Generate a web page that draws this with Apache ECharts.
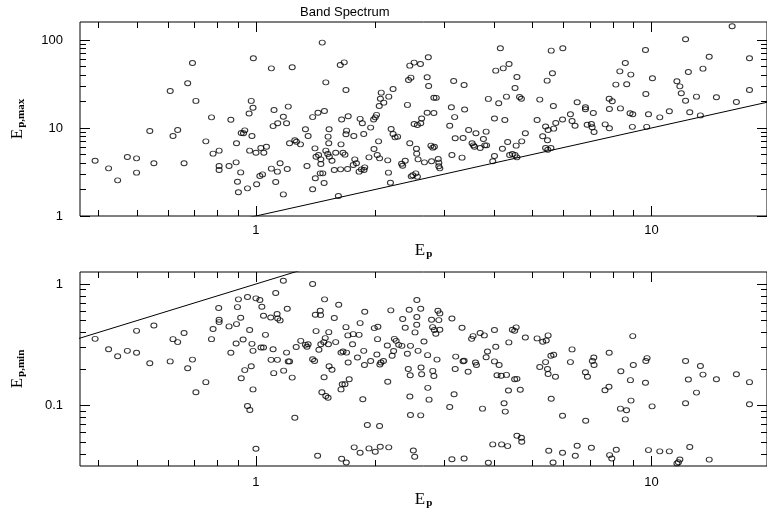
<!DOCTYPE html>
<html><head><meta charset="utf-8">
<script src="https://cdn.jsdelivr.net/npm/echarts@6/dist/echarts.min.js"></script>
<style>html,body{margin:0;padding:0;background:#fff}#c{width:767px;height:512px}</style>
</head><body><div id="c"></div>
<script>
const chartTitle = 'Band Spectrum';
// [Ep, Ep,max]
const epVsEpMax = [
[0.392,4.25],[0.424,3.48],[0.447,2.54],[0.473,4.68],[0.499,4.52],[0.499,3.11],[0.539,9.25],[0.552,3.97],[0.607,26.3],[0.617,8.11],
[0.634,9.49],[0.658,3.97],[0.672,32.2],[0.691,54.8],[0.705,20.3],[0.747,7.05],[0.772,13.2],[0.779,5.11],[0.807,5.53],[0.807,3.70],
[0.807,3.33],[0.855,3.70],[0.864,12.4],[0.893,6.70],[0.891,4.07],[0.898,2.45],[0.903,1.86],[0.915,3.13],[0.918,8.77],[0.930,8.70],
[0.937,9.40],[0.952,2.06],[0.961,14.6],[0.964,5.53],[0.973,20.3],[0.977,8.11],[0.983,17.0],[0.985,61.9],[1.0,5.24],[1.004,2.29],
[1.023,2.85],[1.039,2.97],[1.029,5.93],[1.047,5.24],[1.063,6.13],[1.094,47.6],[1.094,3.45],[1.105,10.5],[1.111,16.0],[1.135,11.3],
[1.122,2.43],[1.133,3.19],[1.151,3.97],[1.173,1.76],[1.173,13.4],[1.195,11.3],[1.2,3.42],[1.207,17.5],[1.216,6.70],[1.235,48.9],
[1.254,7.24],[1.266,6.99],[1.296,6.52],[1.334,9.66],[1.346,3.70],[1.355,8.11],[1.391,2.01],[1.391,13.3],[1.435,14.9],[1.41,5.87],
[1.413,2.68],[1.419,4.72],[1.44,4.93],[1.454,3.05],[1.476,3.05],[1.459,4.40],[1.459,3.90],[1.471,93.3],[1.487,2.37],[1.49,15.6],
[1.502,33.0],[1.502,5.53],[1.531,9.66],[1.522,7.97],[1.528,6.70],[1.519,5.07],[1.533,4.72],[1.557,4.25],[1.578,3.33],[1.591,5.24],
[1.616,1.69],[1.634,52.0],[1.672,55.7],[1.641,6.52],[1.647,12.5],[1.711,13.6],[1.66,5.24],[1.679,4.98],[1.637,3.39],[1.689,27.0],
[1.695,9.33],[1.689,8.47],[1.768,8.11],[1.705,3.42],[1.762,3.80],[1.795,3.97],[1.778,4.40],[1.823,3.19],[1.848,3.39],[1.876,3.33],
[1.884,3.57],[1.834,12.7],[1.858,11.3],[1.873,8.55],[1.931,4.64],[1.95,10.1],[1.984,12.5],[2.003,13.2],[1.988,5.77],[2.018,14.1],
[2.026,4.93],[2.042,7.05],[2.054,4.52],[2.05,17.8],[2.074,25.2],[2.064,21.5],[2.105,19.4],[2.154,4.29],[2.163,3.11],[2.188,2.39],
[2.197,9.74],[2.222,27.7],[2.167,22.7],[2.222,8.55],[2.248,7.83],[2.281,7.97],[2.335,3.93],[2.349,3.73],[2.385,4.25],[2.416,18.3],
[2.431,35.1],[2.465,37.3],[2.449,6.70],[2.449,51.1],[2.512,55.3],[2.606,53.4],[2.47,2.82],[2.493,2.90],[2.56,2.80],[2.536,3.05],
[2.512,11.1],[2.56,10.8],[2.61,11.3],[2.546,5.82],[2.55,5.11],[2.57,4.40],[2.624,12.8],[2.667,4.07],[2.71,14.9],[2.818,14.8],
[2.728,63.5],[2.71,37.7],[2.733,30.0],[2.77,6.30],[2.80,5.98],[2.826,6.13],[2.78,4.18],[2.818,22.1],[2.857,22.0],[2.89,4.44],
[2.90,4.04],[2.90,3.67],[2.917,3.48],[3.09,10.6],[3.12,17.2],[3.18,13.3],[3.13,4.93],[3.162,34.2],[3.19,7.63],[3.32,4.60],
[3.34,7.70],[3.36,30.8],[3.37,16.2],[3.45,9.49],[3.52,6.70],[3.548,6.35],[3.57,6.13],[3.60,8.70],[3.69,5.93],[3.76,7.50],
[3.79,6.35],[3.83,6.35],[3.82,9.09],[3.87,21.4],[3.97,4.18],[4.01,4.81],[4.01,12.8],[4.04,44.8],[4.15,80.4],[4.22,47.6],
[4.365,53.4],[4.11,19.1],[4.20,5.82],[4.26,12.3],[4.30,22.7],[4.33,6.93],[4.38,4.93],[4.45,5.07],
[4.52,28.5],[4.57,38.0],[4.64,22.5],[4.69,21.5],[4.55,6.30],[4.70,7.05],[4.80,8.70],[4.52,4.93],[4.57,4.64],[5.14,12.3],
[5.22,21.0],[5.31,8.04],[5.40,10.4],[5.45,34.5],[5.48,9.49],[5.46,7.24],[5.40,5.93],[5.47,5.67],[5.57,5.93],[5.58,75.6],
[5.62,41.8],[5.65,17.8],[5.66,9.83],[5.73,11.4],[5.97,80.4],[5.96,12.5],[6.24,14.3],[6.30,12.0],[6.41,10.6],[6.49,19.6],
[6.81,17.2],[6.81,16.3],[6.88,10.9],[7.05,11.1],[7.08,10.2],[7.16,9.01],[7.13,14.8],[7.64,11.0],[7.82,21.5],[7.96,20.1],
[7.83,9.91],[7.83,16.4],[8.13,31.1],[8.32,44.0],[8.59,54.8],[8.66,31.4],[8.87,40.4],[8.35,16.7],[8.83,14.7],[8.97,14.3],
[8.95,10.3],[9.66,77.0],[9.68,24.3],[9.73,10.3],[9.83,14.3],[10.06,36.7],[10.5,13.2],[11.1,15.5],[11.6,33.9],[11.8,29.7],
[11.9,24.8],[12.2,20.4],[12.2,101.8],[12.4,43.3],[12.5,15.1],[13.0,22.7],[13.3,13.9],[13.5,47.2],[14.0,64.6],[14.6,22.3],
[16.0,143],[16.4,19.7],[17.7,61.9],[17.7,27.0]
];
// [Ep, Ep,min]
const epVsEpMin = [
[0.392,0.354],[0.424,0.291],[0.447,0.255],[0.473,0.282],[0.499,0.272],[0.499,0.412],[0.539,0.223],[0.552,0.456],[0.607,0.231],[0.617,0.352],
[0.634,0.333],[0.658,0.395],[0.672,0.203],[0.691,0.239],[0.705,0.129],[0.747,0.156],[0.772,0.352],[0.779,0.426],[0.805,0.634],[0.807,0.508],
[0.807,0.486],[0.855,0.448],[0.864,0.272],[0.893,0.468],[0.898,0.646],[0.903,0.748],[0.891,0.324],[0.915,0.528],[0.928,0.350],[0.918,0.168],
[0.937,0.196],[0.952,0.0994],[0.965,0.0921],[0.952,0.781],[0.964,0.418],[0.973,0.211],[0.977,0.322],[0.983,0.282],[0.983,0.136],[1.0,0.762],
[1.0,0.0442],[1.023,0.738],[1.035,0.651],[1.045,0.548],[1.045,0.301],[1.057,0.382],[1.03,0.301],
[1.09,0.531],[1.092,0.238],[1.105,0.291],[1.109,0.185],[1.122,0.843],[1.131,0.566],[1.135,0.521],[1.151,0.502],[1.133,0.238],[1.173,1.065],
[1.175,0.194],[1.195,0.273],[1.2,0.626],[1.207,0.231],[1.216,0.231],[1.235,0.170],[1.254,0.0796],[1.264,0.303],[1.298,0.341],[1.334,0.316],
[1.346,0.305],[1.355,0.320],[1.391,1.0],[1.391,0.241],[1.407,0.233],[1.413,0.559],[1.419,0.410],[1.432,0.0387],[1.443,0.288],[1.454,0.603],
[1.457,0.555],[1.459,0.320],[1.484,0.333],[1.468,0.129],[1.491,0.748],[1.497,0.359],[1.487,0.171],[1.502,0.120],[1.522,0.116],[1.525,0.320],
[1.531,0.211],[1.528,0.402],[1.557,0.197],[1.578,0.525],[1.591,0.333],[1.619,0.676],[1.641,0.136],[1.647,0.0366],[1.641,0.273],[1.653,0.150],
[1.66,0.279],[1.679,0.150],[1.689,0.442],[1.695,0.273],[1.692,0.0341],[1.708,0.378],[1.711,0.226],[1.721,0.165],[1.762,0.387],[1.755,0.320],
[1.772,0.0454],[1.806,0.249],[1.823,0.382],[1.834,0.477],[1.834,0.0410],[1.863,0.113],[1.873,0.282],[1.881,0.216],[1.884,0.591],[1.913,0.0693],
[1.931,0.0445],[1.95,0.233],[1.992,0.434],[2.003,0.0418],[2.022,0.263],[2.034,0.445],[2.03,0.352],[2.054,0.0680],[2.058,0.218],[2.062,0.0459],
[2.07,0.226],[2.101,0.233],[2.149,0.312],[2.154,0.157],[2.167,0.0454],[2.193,0.607],[2.21,0.257],[2.229,0.281],[2.239,0.354],[2.262,0.341],
[2.296,0.316],[2.339,0.310],[2.35,0.515],[2.385,0.437],[2.415,0.267],[2.428,0.200],[2.45,0.119],[2.455,0.178],[2.459,0.0838],[2.441,0.614],
[2.459,0.310],[2.5,0.0428],[2.52,0.0380],[2.525,0.400],[2.55,0.462],[2.552,0.535],[2.552,0.738],[2.57,0.282],[2.61,0.626],[2.61,0.0832],
[2.624,0.181],[2.615,0.206],[2.66,0.337],[2.717,0.260],[2.72,0.140],[2.74,0.112],[2.78,0.508],[2.80,0.193],[2.818,0.175],[2.797,0.442],
[2.826,0.418],[2.85,0.390],[2.87,0.239],[2.885,0.603],[2.90,0.505],[2.917,0.421],[2.917,0.573],[3.09,0.0975],[3.13,0.521],[3.13,0.0363],
[3.17,0.124],[3.20,0.253],[3.19,0.200],[3.32,0.437],[3.34,0.232],[3.36,0.234],[3.36,0.0368],[3.44,0.190],[3.51,0.354],[3.54,0.373],
[3.59,0.226],[3.61,0.216],[3.69,0.395],[3.74,0.0945],[3.78,0.378],[3.82,0.250],[3.85,0.279],[3.87,0.0339],[3.97,0.048],[4.01,0.418],
[4.01,0.231],[4.04,0.305],[4.07,0.178],[4.12,0.216],[4.17,0.176],[4.18,0.048],[4.24,0.1045],[4.27,0.0893],[4.30,0.179],[4.33,0.0465],
[4.35,0.133],[4.36,0.331],[4.45,0.421],
[4.51,0.412],[4.55,0.440],[4.51,0.165],[4.57,0.166],[4.66,0.135],[4.57,0.0566],[4.69,0.0545],[4.70,0.0505],[4.80,0.363],[5.14,0.357],
[5.22,0.208],[5.31,0.335],[5.42,0.343],[5.48,0.378],[5.40,0.228],[5.46,0.200],[5.48,0.182],[5.57,0.257],[5.66,0.262],[5.72,0.173],
[5.58,0.114],[5.50,0.0426],[5.64,0.0341],[5.96,0.0827],[5.96,0.0410],[6.24,0.228],[6.30,0.290],[6.42,0.0387],[6.49,0.0468],[6.81,0.188],
[6.89,0.173],[6.82,0.0752],[7.05,0.0451],[7.09,0.233],[7.15,0.249],[7.16,0.216],[7.63,0.134],[7.81,0.143],[7.82,0.272],[7.84,0.0392],
[7.94,0.0368],[8.15,0.0434],[8.37,0.192],[8.35,0.0945],[8.59,0.0771],[8.65,0.0916],[8.85,0.162],[8.88,0.110],[8.97,0.373],[9.0,0.216],
[9.66,0.154],[9.68,0.233],[9.75,0.246],[9.83,0.0431],[10.04,0.0987],[10.5,0.0421],[11.1,0.0421],[11.6,0.0335],[11.7,0.0342],[11.8,0.0361],
[12.2,0.1045],[12.2,0.233],[12.4,0.164],[12.5,0.0457],[13.0,0.128],[13.3,0.212],[13.5,0.180],[14.0,0.0360],[14.6,0.165],[16.4,0.181],
[17.7,0.156],[17.7,0.1026]
];
// equality line Ep = Ep,max / Ep,min (end points, clipped by the plot)
const equalityLine = [0.1, 100];
// axis ranges and tick labels
const xRange = [0.359, 19.6];
const topYRange = [1, 160];
const botYRange = [0.0319, 1.255];
const xTickLabels = [1, 10];
const topYTickLabels = [1, 10, 100];
const botYTickLabels = [0.1, 1];

const LOG = Math.log10;
const MAJOR = [1], MINOR = [2,3,4,5,6,7,8,9];
function decadeTicks(range, mults){
  const out = [];
  for (let e = -3; e <= 3; e++) for (const k of mults) {
    const v = k * Math.pow(10, e);
    if (v >= range[0] * 0.9999 && v <= range[1] * 1.0001) out.push(LOG(v));
  }
  return out;
}
function fmt(v, labels){
  const l = labels.find(t => Math.abs(LOG(t) - v) < 1e-6);
  return l === undefined ? '' : String(l);
}
const serif = 'Liberation Serif', sans = 'Liberation Sans';
function nameStyle(){
  return {color:'#000', rich:{
    e:{fontFamily:serif, fontSize:17, color:'#000', verticalAlign:'top', lineHeight:18},
    s:{fontFamily:serif, fontSize:11, fontWeight:'bold', color:'#000', verticalAlign:'bottom', lineHeight:12, padding:[8,0,0,1]}
  }};
}
function axis(gridIndex, position, range, major, labels, margin, extra){
  const a = {
    type:'value', gridIndex, position, min: LOG(range[0]), max: LOG(range[1]),
    axisLine:{show:false, onZero:false}, splitLine:{show:false},
    axisTick:{show:true, inside:true, length: major ? 10 : 6, customValues: decadeTicks(range, major ? MAJOR : MINOR),
      lineStyle:{color:'#000', width:1}},
    axisLabel: labels ? {show:true, customValues: labels.map(LOG), formatter: v => fmt(v, labels),
      color:'#000', fontFamily:sans, fontSize:13, margin: margin} : {show:false}
  };
  return Object.assign(a, extra || {});
}
function xAxesFor(g, nameGap, margin){
  return [
    axis(g, 'bottom', xRange, true, xTickLabels, margin, {name:'{e|E}{s|p}', nameLocation:'middle', nameGap:nameGap, nameTextStyle:nameStyle()}),
    axis(g, 'bottom', xRange, false),
    axis(g, 'top', xRange, true),
    axis(g, 'top', xRange, false)
  ];
}
function yAxesFor(g, range, labels, name){
  return [
    axis(g, 'left', range, true, labels, 17, {name:name, nameLocation:'middle', nameGap:53, nameTextStyle:nameStyle()}),
    axis(g, 'left', range, false),
    axis(g, 'right', range, true),
    axis(g, 'right', range, false)
  ];
}
const scatterStyle = {symbol:'circle', symbolSize:[6,5], itemStyle:{color:'rgba(0,0,0,0)', borderColor:'#000', borderWidth:1}};
const chart = echarts.init(document.getElementById('c'));
chart.setOption({
  animation:false,
  backgroundColor:'#fff',
  title:{text:chartTitle, left:295, top:1, textStyle:{fontFamily:sans, fontSize:13, fontWeight:'normal', color:'#000'}},
  grid:[
    {left:72, top:22, width:695, height:194, show:true, borderColor:'#000', borderWidth:1, backgroundColor:'transparent'},
    {left:72, top:272, width:695, height:194, show:true, borderColor:'#000', borderWidth:1, backgroundColor:'transparent'}
  ],
  xAxis: xAxesFor(0, 26, 8).concat(xAxesFor(1, 24, 10)),
  yAxis: yAxesFor(0, topYRange, topYTickLabels, '{e|E}{s|p,max}').concat(yAxesFor(1, botYRange, botYTickLabels, '{e|E}{s|p,min}')),
  series:[
    Object.assign({type:'scatter', xAxisIndex:0, yAxisIndex:0, silent:true,
      data: epVsEpMax.map(p => [LOG(p[0]), LOG(p[1])])}, scatterStyle),
    {type:'line', xAxisIndex:0, yAxisIndex:0, silent:true, symbol:'none', clip:true,
      lineStyle:{color:'#000', width:1}, data: equalityLine.map(v => [LOG(v), LOG(v)])},
    Object.assign({type:'scatter', xAxisIndex:4, yAxisIndex:4, silent:true,
      data: epVsEpMin.map(p => [LOG(p[0]), LOG(p[1])])}, scatterStyle),
    {type:'line', xAxisIndex:4, yAxisIndex:4, silent:true, symbol:'none', clip:true,
      lineStyle:{color:'#000', width:1}, data: equalityLine.map(v => [LOG(v), LOG(v)])}
  ]
});
</script></body></html>
